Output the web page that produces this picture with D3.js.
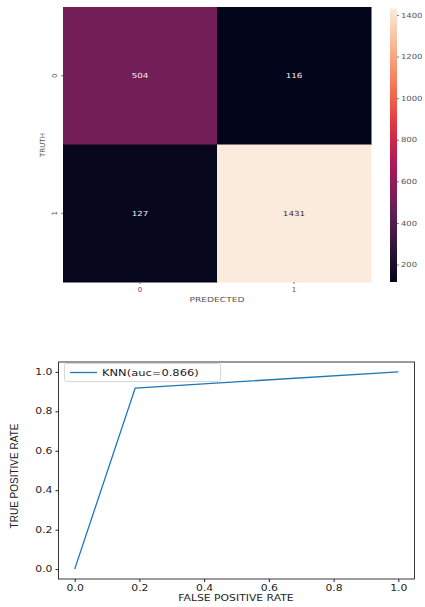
<!DOCTYPE html>
<html>
<head>
<meta charset="utf-8">
<script src="https://cdn.jsdelivr.net/npm/d3@7"></script>
<style>
  body { margin: 0; background: #fff; }
  svg text { font-family: "DejaVu Sans", sans-serif; }
  .hm text { fill: #555; font-size: 7px; }
  .roc text { fill: #222; font-size: 9px; }
</style>
</head>
<body>
<script>
// confusion matrix
var classes = ["0", "1"];
var matrix = [[504, 116], [127, 1431]];
var barTicks = [200, 400, 600, 800, 1000, 1200, 1400];

// ROC curve
var fpr = [0, 0.187, 1];
var tpr = [0, 0.918, 1];
var rocTicks = [0, 0.2, 0.4, 0.6, 0.8, 1.0];
var legendLabel = "KNN(auc=0.866)";

var W = 425, H = 607;
var svg = d3.select("body").append("svg").attr("width", W).attr("height", H);

/* the picture is a bit stretched sideways, so text gets widened too */
function widen(sel, k) {
  sel.each(function() {
    var len = this.getComputedTextLength();
    d3.select(this).attr("textLength", len * k).attr("lengthAdjust", "spacingAndGlyphs");
  });
}

/* rocket colormap, stops from seaborn */
var rocket = d3.piecewise(d3.interpolateRgb, ["#03051a", "#35193e", "#701f57", "#ad1759", "#e13342", "#f37651", "#f6b48f", "#faebdd"]);
var vals = matrix.flat();
var vmin = d3.min(vals), vmax = d3.max(vals);
var color = d3.scaleSequential(rocket).domain([vmin, vmax]);

var hm = svg.append("g").attr("class", "hm");
var x = d3.scaleBand().domain(classes).range([63, 371]);
var y = d3.scaleBand().domain(classes).range([7, 282]);

var cells = [];
matrix.forEach(function(row, i) {
  row.forEach(function(v, j) { cells.push({r: classes[i], c: classes[j], v: v}); });
});

hm.selectAll("rect.cell").data(cells).enter().append("rect")
  .attr("class", "cell")
  .attr("x", function(d) { return x(d.c); })
  .attr("y", function(d) { return y(d.r); })
  .attr("width", x.bandwidth() + 0.5)
  .attr("height", y.bandwidth() + 0.5)
  .attr("fill", function(d) { return color(d.v); });

hm.selectAll("text.ann").data(cells).enter().append("text")
  .attr("class", "ann")
  .attr("x", function(d) { return x(d.c) + x.bandwidth() / 2; })
  .attr("y", function(d) { return y(d.r) + y.bandwidth() / 2 + 2.5; })
  .attr("text-anchor", "middle")
  .style("fill", function(d) { return (d.v - vmin) / (vmax - vmin) > 0.6 ? "#3b2c2c" : "#f4eef0"; })
  .text(function(d) { return d.v; })
  .call(widen, 1.25);

var xAx = hm.append("g").attr("transform", "translate(0,282)")
  .call(d3.axisBottom(x).tickSize(2).tickPadding(3));
var yAx = hm.append("g").attr("transform", "translate(63,0)")
  .call(d3.axisLeft(y).tickSize(2).tickPadding(3));
[xAx, yAx].forEach(function(a) {
  a.select(".domain").remove();
  a.selectAll("line").attr("stroke", "#777");
  a.selectAll("text").style("fill", "#555").style("font-size", "7px");
});
yAx.selectAll("text").attr("transform", "rotate(-90)").attr("x", 0).attr("dy", 0)
  .attr("y", -6).attr("text-anchor", "middle");

hm.append("text").attr("x", 217).attr("y", 302).attr("text-anchor", "middle")
  .text("PREDECTED").call(widen, 1.3);
hm.append("text").attr("transform", "translate(45,145) rotate(-90)")
  .attr("text-anchor", "middle").text("TRUTH");

// colorbar
var cb = d3.scaleLinear().domain([vmin, vmax]).range([282, 8.5]);
var defs = svg.append("defs");
var grad = defs.append("linearGradient").attr("id", "cbg")
  .attr("x1", 0).attr("y1", 1).attr("x2", 0).attr("y2", 0);
d3.range(0, 1.0001, 0.05).forEach(function(t) {
  grad.append("stop").attr("offset", t).attr("stop-color", rocket(t));
});
hm.append("rect").attr("x", 390).attr("y", cb(vmax)).attr("width", 7)
  .attr("height", cb(vmin) - cb(vmax)).attr("fill", "url(#cbg)");
var cbAx = hm.append("g").attr("transform", "translate(397,0)")
  .call(d3.axisRight(cb).tickValues(barTicks).tickFormat(d3.format("d")).tickSize(2).tickPadding(2));
cbAx.select(".domain").remove();
cbAx.selectAll("line").attr("stroke", "#777");
cbAx.selectAll("text").style("fill", "#555").style("font-size", "7px").call(widen, 1.2);

// ROC chart
var roc = svg.append("g").attr("class", "roc");
var rx = d3.scaleLinear().domain([-0.05, 1.05]).range([58.5, 414.5]);
var ry = d3.scaleLinear().domain([-0.05, 1.05]).range([579, 362]);

roc.append("rect").attr("x", rx(-0.05)).attr("y", ry(1.05))
  .attr("width", rx(1.05) - rx(-0.05)).attr("height", ry(-0.05) - ry(1.05))
  .attr("fill", "none").attr("stroke", "#222").attr("stroke-width", 0.9);

var rxAx = roc.append("g").attr("transform", "translate(0,579)")
  .call(d3.axisBottom(rx).tickValues(rocTicks).tickFormat(d3.format(".1f")).tickSize(3).tickPadding(3));
var ryAx = roc.append("g").attr("transform", "translate(58.5,0)")
  .call(d3.axisLeft(ry).tickValues(rocTicks).tickFormat(d3.format(".1f")).tickSize(3).tickPadding(3));
[rxAx, ryAx].forEach(function(a) {
  a.select(".domain").remove();
  a.selectAll("line").attr("stroke", "#222");
  a.selectAll("text").style("fill", "#222").style("font-size", "8px").call(widen, 1.35);
});

var pts = fpr.map(function(f, i) { return [f, tpr[i]]; });
roc.append("path").datum(pts)
  .attr("d", d3.line().x(function(d) { return rx(d[0]); }).y(function(d) { return ry(d[1]); }))
  .attr("fill", "none").attr("stroke", "#1f77b4").attr("stroke-width", 1.3);

// legend
roc.append("rect").attr("x", 64.5).attr("y", 363.5).attr("width", 156).attr("height", 18)
  .attr("rx", 2).attr("fill", "#fff").attr("stroke", "#ccc").attr("stroke-width", 0.8);
roc.append("line").attr("x1", 70).attr("x2", 97).attr("y1", 372.5).attr("y2", 372.5)
  .attr("stroke", "#1f77b4").attr("stroke-width", 1.3);
roc.append("text").attr("x", 102).attr("y", 375.5).style("font-size", "8.5px")
  .text(legendLabel).call(widen, 1.35);

roc.append("text").attr("x", 236).attr("y", 601).attr("text-anchor", "middle")
  .style("font-size", "8px").text("FALSE POSITIVE RATE").call(widen, 1.35);
roc.append("text").attr("transform", "translate(18,476) rotate(-90)")
  .attr("text-anchor", "middle")
  .style("font-family", "'Liberation Sans Narrow', 'Liberation Sans', sans-serif")
  .style("font-size", "10px").text("TRUE POSITIVE RATE");
</script>
</body>
</html>
